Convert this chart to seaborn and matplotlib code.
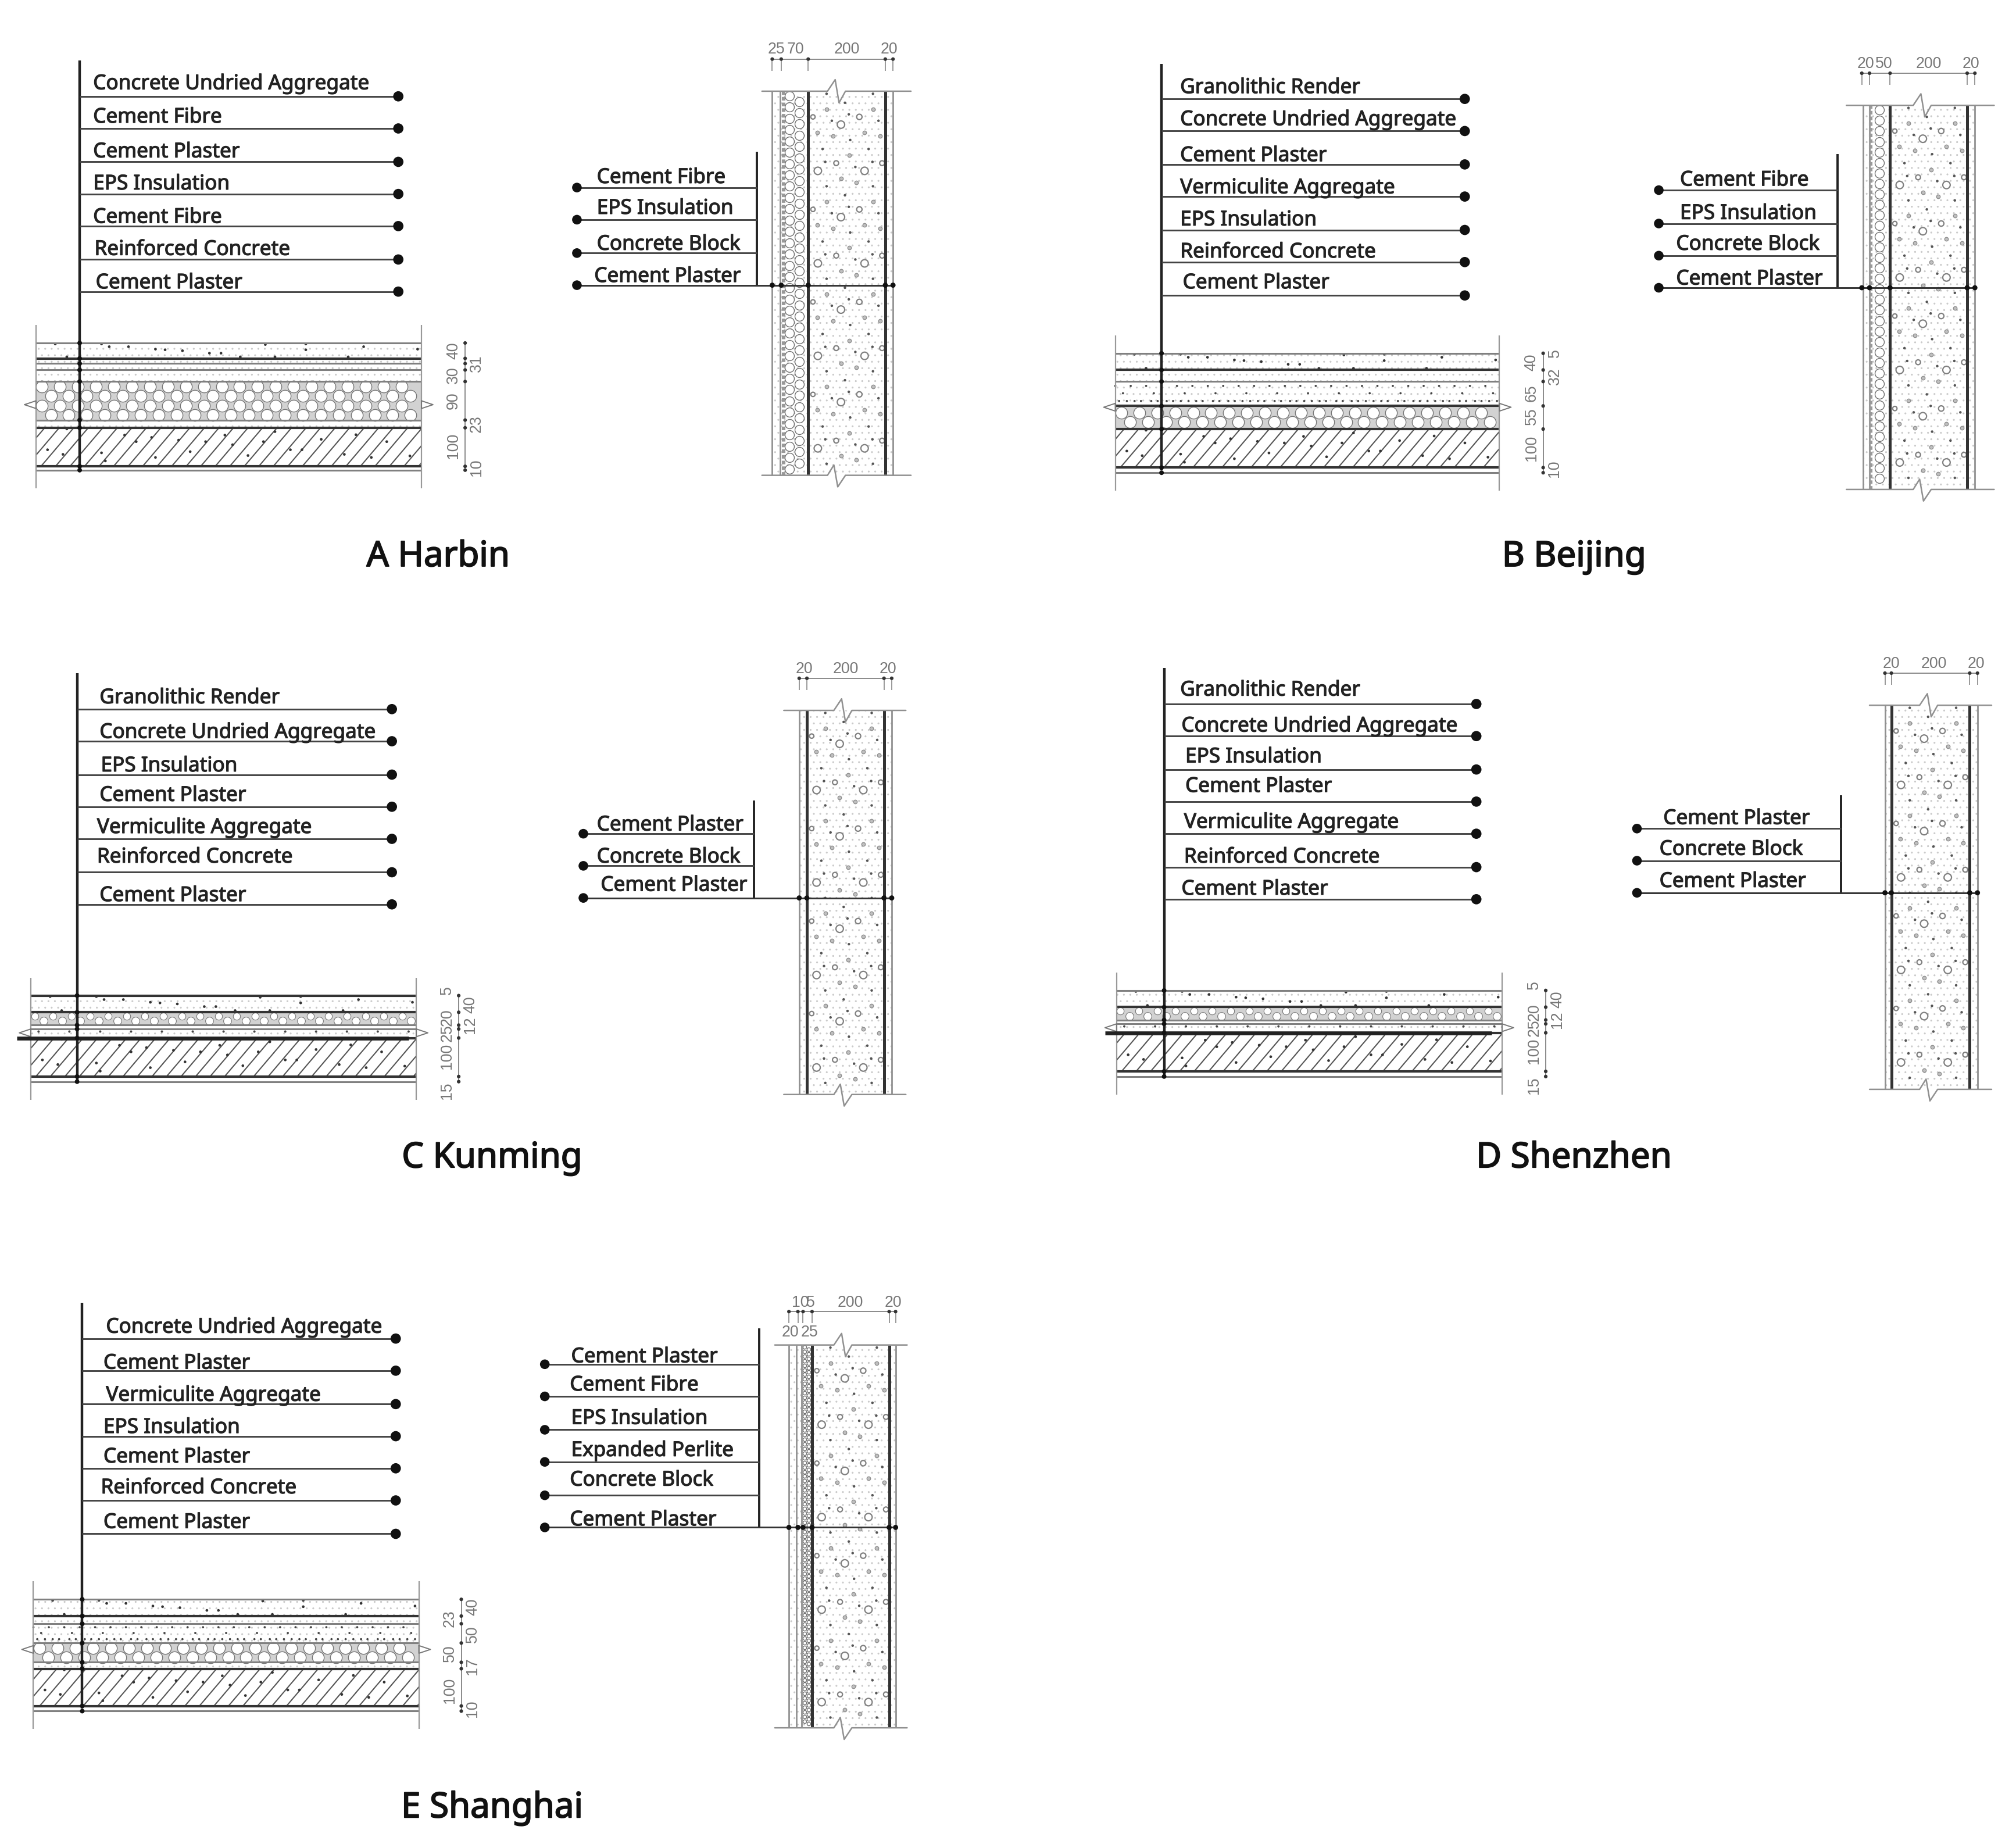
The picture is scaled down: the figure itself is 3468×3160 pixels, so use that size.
import numpy as np
import seaborn as sns
import matplotlib
matplotlib.use("Agg")
import matplotlib.pyplot as plt
import matplotlib.patheffects as pe
from matplotlib.collections import LineCollection
from matplotlib.patches import Rectangle

W, H = 1569, 1430
S = 3468 / W  # drawing units to pixels

# ---------------------------------------------------------
# Data
# ---------------------------------------------------------
CUA, CF, CP, EPS = "Concrete Undried Aggregate", "Cement Fibre", "Cement Plaster", "EPS Insulation"
RC, VA, GR, CB, EP = "Reinforced Concrete", "Vermiculite Aggregate", "Granolithic Render", "Concrete Block", "Expanded Perlite"

titles = ["A Harbin", "B Beijing", "C Kunming", "D Shenzhen", "E Shanghai"]
title_pos = [(341, 433.5), (1225, 433.5), (383, 901.5), (1225, 901.5), (383, 1407.5)]

# floor build-ups: labels, label anchors, leader heights
a_names = [CUA, CF, CP, EPS, CF, RC, CP]
a_lx = [72, 72, 72, 72, 72, 73, 74]
a_ly = [64, 90, 117, 142, 168, 193, 219]
a_rows = [75, 100, 126, 151, 176, 202, 227]
b_names = [GR, CUA, CP, VA, EPS, RC, CP]
b_lx = [918, 918, 918, 918, 918, 918, 920]
b_ly = [67, 92, 120, 145, 170, 195, 219]
b_rows = [77, 102, 128, 153, 179, 204, 230]
c_names = [GR, CUA, EPS, CP, VA, RC, CP]
c_lx = [77, 77, 78, 77, 75, 75, 77]
c_ly = [542, 569, 595, 618, 643, 666, 696]
c_rows = [552, 577, 603, 628, 653, 679, 704]
d_names = [GR, CUA, EPS, CP, VA, RC, CP]
d_lx = [918, 919, 922, 922, 921, 921, 919]
d_ly = [536, 564, 588, 611, 639, 666, 691]
d_rows = [548, 573, 599, 624, 649, 675, 700]
e_names = [CUA, CP, VA, EPS, CP, RC, CP]
e_lx = [82, 80, 82, 80, 80, 78, 80]
e_ly = [1032, 1060, 1085, 1110, 1133, 1157, 1184]
e_rows = [1042, 1067, 1093, 1118, 1143, 1168, 1194]

# floor layers: kind, top, bottom
a_layers = [("screed", 267, 279), ("thin", 279, 288), ("thin", 288, 297), ("eps", 297, 327), ("thin", 327, 333), ("slab", 333, 363)]
b_layers = [("screed", 275, 288), ("thin", 288, 297), ("verm", 297, 316), ("eps", 316, 334), ("slab", 334, 364)]
c_layers = [("screed", 775, 788), ("cups", 788, 798), ("row", 800, 808), ("slab", 808, 838)]
d_layers = [("screed", 771, 784), ("cups", 784, 794), ("row", 796, 804), ("slab", 804, 834)]
e_layers = [("screed", 1245, 1258), ("thin", 1258, 1264), ("verm", 1264, 1279), ("eps", 1279, 1294), ("thin", 1294, 1299), ("slab", 1299, 1328)]
a_dark = [279, 333, 363]
b_dark = [288, 316, 334, 364]
c_dark = [775, 788, 808, 838]
d_dark = [784, 804, 834]
e_dark = [1258, 1299, 1328]
a_pale = [267, 283, 288, 297, 327, 366]
b_pale = [275, 297, 368]
c_pale = [798, 801, 842]
d_pale = [771, 794, 797, 838]
e_pale = [1245, 1264, 1279, 1294, 1332]

# floor dimension strings: text, height, side
a_dims = [("40", 273, -1), ("31", 283, 1), ("30", 292, -1), ("90", 312, -1), ("23", 330, 1), ("100", 347, -1), ("10", 364, 1)]
b_dims = [("5", 275, 1), ("40", 282, -1), ("32", 293, 1), ("65", 306, -1), ("55", 324, -1), ("100", 349, -1), ("10", 365, 1)]
c_dims = [("5", 771, -1), ("40", 782, 1), ("20", 792, -1), ("12", 798, 1), ("25", 804, -1), ("100", 822, -1), ("15", 849, -1)]
d_dims = [("5", 767, -1), ("40", 778, 1), ("20", 788, -1), ("12", 794, 1), ("25", 800, -1), ("100", 818, -1), ("15", 845, -1)]
e_dims = [("40", 1251, 1), ("23", 1260, -1), ("50", 1272, 1), ("50", 1287, -1), ("17", 1297, 1), ("100", 1316, -1), ("10", 1330, 1)]

# wall sections: line position, weight (1 pale, 2 dark, 3 speckled band)
a_wall = [(601, 1), (607, 1), (610, 3), (629, 2), (689, 2), (695, 1)]
b_wall = [(1450, 1), (1455, 1), (1456, 3), (1471, 2), (1531, 2), (1537, 1)]
c_wall = [(622, 1), (628, 2), (688, 2), (694, 1)]
d_wall = [(1467, 1), (1472, 2), (1533, 2), (1539, 1)]
e_wall = [(614, 1), (620, 1), (624, 1), (632, 2), (692, 2), (697, 1)]
# insulation columns inside the wall: column centres, cell size, pitch
a_wall_eps = ([614.5, 622], 7.2, 8.8)
b_wall_eps = ([1462.5], 7.2, 8.2)
e_wall_eps = ([626, 629.5], 2.8, 3.6)

a_sec_names = [CF, EPS, CB, CP]
a_sec_lx = [464, 464, 464, 462]
a_sec_ly = [137, 161, 189, 214]
a_sec_rows = [146, 171, 197, 222]
b_sec_names = [CF, EPS, CB, CP]
b_sec_lx = [1307, 1307, 1304, 1304]
b_sec_ly = [139, 165, 189, 216]
b_sec_rows = [148, 174, 199, 224]
c_sec_names = [CP, CB, CP]
c_sec_lx = [464, 464, 467]
c_sec_ly = [641, 666, 688]
c_sec_rows = [649, 674, 699]
d_sec_names = [CP, CB, CP]
d_sec_lx = [1294, 1291, 1291]
d_sec_ly = [636, 660, 685]
d_sec_rows = [645, 670, 695]
e_sec_names = [CP, CF, EPS, EP, CB, CP]
e_sec_lx = [444, 443, 444, 444, 443, 443]
e_sec_ly = [1055, 1077, 1103, 1128, 1151, 1182]
e_sec_rows = [1062, 1087, 1113, 1138, 1164, 1189]

# wall dimension strings above each section: text, x, y
a_wall_dims = [("25", 604, 38.5), ("70", 619, 38.5), ("200", 659, 38.5), ("20", 692, 38.5)]
b_wall_dims = [("20", 1452, 50), ("50", 1466, 50), ("200", 1501, 50), ("20", 1534, 50)]
c_wall_dims = [("20", 626, 521), ("200", 658, 521), ("20", 691, 521)]
d_wall_dims = [("20", 1472, 517), ("200", 1505, 517), ("20", 1538, 517)]
e_wall_dims = [("10", 623, 1014), ("5", 631, 1014), ("200", 662, 1014), ("20", 695, 1014), ("20", 615, 1037), ("25", 630, 1037)]
a_wall_ticks = [601, 608, 629, 689, 695]
b_wall_ticks = [1449, 1455, 1471, 1531, 1537]
c_wall_ticks = [622, 628, 688, 694]
d_wall_ticks = [1467, 1472, 1533, 1539]
e_wall_ticks = [614, 621, 625, 632, 692, 697]

# repeating aggregate pattern of the block wall, one tile: dx, dy, radius
agg_open = [(3.7, 20, 1.7), (14.3, 14, 1.4), (25.5, 26, 2.9), (39.8, 20, 2.1), (50.4, 14, 1.4), (7, 32, 1.4), (19.4, 35, 1.4),
            (43.9, 32, 1.4), (56, 35, 1.4), (32, 50, 1.4), (21.8, 56, 1.9), (7.5, 62, 2.9), (43.9, 62, 2.9), (57.5, 56, 1.9),
            (25.5, 68, 1.4), (37.3, 71, 1.4)]
agg_dots = [(28.6, 9), (31.6, 18), (18.4, 23), (54.7, 23), (32.7, 38), (11.2, 45), (47, 45), (13.3, 55), (36.7, 59), (50, 55),
            (14.3, 2), (50.4, 2)]
# scattered grit in the screed and slab, as fractions of the layer
screed_grit = [(.05, .06), (.17, .06), (.19, .24), (.24, .24), (.31, .4), (.335, .44), (.38, .5), (.45, .66), (.48, .66), (.595, .1),
               (.70, .06), (.70, .44), (.85, .24), (.99, .4), (.08, .9), (.53, .9), (.62, .9), (.81, .9)]
slab_grit = [(.08, .03), (.23, .19), (.26, .36), (.30, .25), (.37, .32), (.44, .36), (.49, .19), (.51, .44), (.59, .36), (.66, .57),
             (.69, .57), (.80, .69), (.91, .36), (.87, .77), (.97, .73), (.03, .57), (.07, .69), (.17, .65), (.31, .77), (.18, .86),
             (.40, .62), (.55, .72), (.74, .30), (.83, .18), (.62, .10)]
# vermiculite marks, one 48 unit wide tile: dx, fraction of layer
verm_tile = [(0, .18), (12, .18), (24, .18), (36, .18), (6, .48), (30, .48), (3, .8), (9, .8), (15, .8), (20, .8), (28, .8), (33, .8), (40, .8), (45, .8)]

panels = [
    dict(names=a_names, lx=a_lx, ly=a_ly, rows=a_rows, vx=62, vtop=47, vbot=363, dot=310, fx=(28, 328), layers=a_layers, dark=a_dark, pale=a_pale,
         dims=a_dims, dimx=362, by=315, band=None, wall=a_wall, weps=a_wall_eps, wy=(71, 370), span=(593, 709), brk=650, snames=a_sec_names, slx=a_sec_lx,
         sly=a_sec_ly, srows=a_sec_rows, sdot=449, svx=589, svtop=118, wdims=a_wall_dims, wticks=a_wall_ticks, wdy=46),
    dict(names=b_names, lx=b_lx, ly=b_ly, rows=b_rows, vx=904, vtop=50, vbot=366, dot=1140, fx=(868, 1167), layers=b_layers, dark=b_dark, pale=b_pale,
         dims=b_dims, dimx=1201, by=317, band=None, wall=b_wall, weps=b_wall_eps, wy=(82, 381), span=(1437, 1552), brk=1495, snames=b_sec_names, slx=b_sec_lx,
         sly=b_sec_ly, srows=b_sec_rows, sdot=1291, svx=1430, svtop=120, wdims=b_wall_dims, wticks=b_wall_ticks, wdy=57),
    dict(names=c_names, lx=c_lx, ly=c_ly, rows=c_rows, vx=60, vtop=524, vbot=842, dot=305, fx=(24, 324), layers=c_layers, dark=c_dark, pale=c_pale,
         dims=c_dims, dimx=357, by=804, band=(13, 318, 808), wall=c_wall, weps=None, wy=(553, 852), span=(610, 705), brk=655, snames=c_sec_names, slx=c_sec_lx,
         sly=c_sec_ly, srows=c_sec_rows, sdot=454, svx=587, svtop=623, wdims=c_wall_dims, wticks=c_wall_ticks, wdy=528),
    dict(names=d_names, lx=d_lx, ly=d_ly, rows=d_rows, vx=906, vtop=520, vbot=838, dot=1149, fx=(869, 1169), layers=d_layers, dark=d_dark, pale=d_pale,
         dims=d_dims, dimx=1203, by=800, band=(860, 1161, 804), wall=d_wall, weps=None, wy=(549, 848), span=(1455, 1550), brk=1500, snames=d_sec_names, slx=d_sec_lx,
         sly=d_sec_ly, srows=d_sec_rows, sdot=1274, svx=1433, svtop=619, wdims=d_wall_dims, wticks=d_wall_ticks, wdy=524),
    dict(names=e_names, lx=e_lx, ly=e_ly, rows=e_rows, vx=64, vtop=1014, vbot=1330, dot=308, fx=(26, 326), layers=e_layers, dark=e_dark, pale=e_pale,
         dims=e_dims, dimx=359, by=1284, band=None, wall=e_wall, weps=e_wall_eps, wy=(1047, 1345), span=(603, 706), brk=655, snames=e_sec_names, slx=e_sec_lx,
         sly=e_sec_ly, srows=e_sec_rows, sdot=424, svx=591, svtop=1034, wdims=e_wall_dims, wticks=e_wall_ticks, wdy=1021),
]

# ---------------------------------------------------------
# Figure
# ---------------------------------------------------------
sns.set_theme(style="white")
plt.rcParams["font.family"] = ["Noto Sans", "DejaVu Sans"]
plt.rcParams["hatch.linewidth"] = 0.35

fig = plt.figure(figsize=(17.34, 15.8), dpi=200, facecolor="white")
ax = fig.add_axes([0, 0, 1, 1])
ax.set_xlim(0, W)
ax.set_ylim(H, 0)
ax.axis("off")
ax.set_autoscale_on(False)

INK = "#222222"
GREY = "#777777"
LABEL_SIZE = 12.65
DIM_SIZE = 9.6
DIM_FONT = ["Liberation Sans Narrow", "Liberation Sans", "DejaVu Sans"]
THICK = [pe.withStroke(linewidth=0.45, foreground=INK)]
CELL_BACK = "#d2d2d2"


def to_pts(d):
    # diameter in drawing units to matplotlib marker area
    return (d * S / 200 * 72) ** 2


def dots(xs, ys, d, color=INK, edge="none", lw=0, z=4):
    sns.scatterplot(x=np.asarray(xs, float), y=np.asarray(ys, float), s=to_pts(d), color=color, edgecolor=edge, linewidth=lw,
                    legend=False, ax=ax, zorder=z)


def stipple(x0, x1, y0, y1):
    ax.add_patch(Rectangle((x0, y0), x1 - x0, y1 - y0, fill=False, hatch="...", edgecolor="#cacaca", lw=0, zorder=1))


def eps_cells(x0, x1, y0, y1, pitch=14, step=7.4, d=9.2):
    nrows = max(1, int((y1 - y0) / step))
    top = (y0 + y1) / 2 - (nrows - 1) * step / 2
    xs, ys = [], []
    for r in range(nrows):
        off = pitch / 2 if r % 2 else 0
        cols = np.arange(x0 + d / 2 + off, x1 - d / 2 + 0.01, pitch)
        xs += list(cols)
        ys += [top + r * step] * len(cols)
    ax.add_patch(Rectangle((x0, y0), x1 - x0, y1 - y0, color=CELL_BACK, lw=0, zorder=1.5))
    dots(xs, ys, d, color="white", edge="#777777", lw=0.5, z=2)


def cup_cells(x0, x1, y0, y1):
    # two uneven rows of small cells in the thin insulation layers
    ax.add_patch(Rectangle((x0, y0), x1 - x0, y1 - y0, color=CELL_BACK, lw=0, zorder=1.5))
    cols = np.arange(x0 + 3, x1 - 3, 14.3)
    dots(cols, [y0 + 3] * len(cols), 5.6, color="white", edge="#777777", lw=0.4, z=2)
    cols2 = cols + 7
    cols2 = cols2[cols2 < x1 - 3]
    dots(cols2, [y0 + 6.8] * len(cols2), 6.2, color="white", edge="#777777", lw=0.4, z=2)


def slab_hatch(x0, x1, y0, y1):
    h = y1 - y0
    clip = Rectangle((x0, y0), x1 - x0, h, fill=False, lw=0)
    ax.add_patch(clip)
    segs = [[(x, y1), (x + h * 0.85, y0)] for x in np.arange(x0 - h, x1, 11.3)]
    lc = LineCollection(segs, colors="#555555", linewidths=0.75, zorder=2)
    ax.add_collection(lc)
    lc.set_clip_path(clip)


def grit(x0, x1, y0, y1, table, d=2.1):
    dots([x0 + (x1 - x0) * a for a, b in table], [y0 + (y1 - y0) * b for a, b in table], d, color="#333333", z=3)


def break_mark(x, y, sign):
    ax.plot([x, x + sign * 9, x, x], [y - 3, y, y + 3, y - 3], color=GREY, lw=0.7, zorder=3)


def draw_floor(p):
    x0, x1 = p["fx"]
    ylist = p["pale"] + p["dark"]
    top, bot = min(ylist), max(ylist)
    for kind, y0, y1 in p["layers"]:
        if kind == "screed":
            stipple(x0, x1, y0, y1)
            grit(x0, x1, y0, y1, screed_grit)
        elif kind == "thin":
            stipple(x0, x1, y0, y1)
        elif kind == "verm":
            stipple(x0, x1, y0, y1)
            xs = [x0 + 48 * k + dx for k in range(7) for dx, dy in verm_tile if x0 + 48 * k + dx < x1]
            ys = [y0 + (y1 - y0) * dy for k in range(7) for dx, dy in verm_tile if x0 + 48 * k + dx < x1]
            dots(xs, ys, 1.7, color="#444444", z=3)
        elif kind == "row":
            stipple(x0, x1, y0, y1)
            cols = np.arange(x0 + 6, x1, 24)
            dots(cols, [(y0 + y1) / 2 - 1] * len(cols), 1.8, color="#444444", z=3)
        elif kind == "eps":
            eps_cells(x0, x1, y0, y1)
        elif kind == "cups":
            cup_cells(x0, x1, y0, y1)
        elif kind == "slab":
            slab_hatch(x0, x1, y0, y1)
            grit(x0, x1, y0, y1, slab_grit)
    ax.hlines(p["pale"], x0, x1, color="#808080", lw=1.1, zorder=3)
    ax.hlines(p["dark"], x0, x1, color="#333333", lw=1.5, zorder=3)
    if p["band"] is not None:
        ax.hlines(p["band"][2], p["band"][0], p["band"][1], color="#222222", lw=2.4, zorder=4)
    ax.vlines([x0, x1], top - 14, bot + 14, color="#999999", lw=0.8, zorder=3)
    break_mark(x0, p["by"], -1)
    break_mark(x1, p["by"], 1)
    # dimension string at the right
    dx = p["dimx"]
    ticks = sorted(set(ylist))
    ax.vlines(dx, top, bot, color=GREY, lw=0.6)
    dots([dx] * len(ticks), ticks, 2.8, color="#333333")
    for txt, y, side in p["dims"]:
        ax.text(dx + side * 9, y, txt, rotation=90, ha="center", va="center", fontsize=DIM_SIZE, color="#777777", family=DIM_FONT)


def draw_wall(p):
    y0, y1 = p["wy"]
    xs = p["wall"]
    stipple(xs[0][0], xs[-1][0], y0, y1)
    if p["weps"] is not None:
        cols, d, pitch = p["weps"]
        for c, cx in enumerate(cols):
            ey = np.arange(y0 + d / 2 + (pitch / 2 if c % 2 else 0), y1 - d / 2, pitch)
            dots([cx] * len(ey), ey, d, color="white", edge="#707070", lw=0.5, z=2)
    # aggregate tile
    left = [x for x, wt in xs if wt == 2][0]
    for k in range(5):
        oy = y0 + 72 * k
        keep = [t for t in agg_open if oy + t[1] < y1 - 2]
        big = [t for t in keep if t[2] > 1.5]
        small = [t for t in keep if t[2] <= 1.5]
        if big:
            sns.scatterplot(x=np.array([left + t[0] for t in big]), y=np.array([oy + t[1] for t in big]),
                            s=to_pts(2 * np.array([t[2] for t in big])), color="white", edgecolor="#808080", linewidth=0.8,
                            legend=False, ax=ax, zorder=3)
        if small:
            dots([left + t[0] for t in small], [oy + t[1] for t in small], 2.9, color="#c0c0c0", edge="#909090", lw=0.5, z=3)
        dk = [t for t in agg_dots if oy + t[1] < y1 - 2]
        if dk:
            dots([left + t[0] for t in dk], [oy + t[1] for t in dk], 2.0, color="#555555", z=3)
    for x, wt in xs:
        if wt == 3:
            ax.vlines(x, y0, y1, color="#999999", lw=2.2, ls=(0, (1, 0.6)), zorder=4)
        else:
            ax.vlines(x, y0, y1, color="#333333" if wt == 2 else "#909090", lw=1.8 if wt == 2 else 1.0, zorder=4)
    # broken top and bottom edges
    sx0, sx1 = p["span"]
    b = p["brk"]
    ax.plot([sx0, b - 6, b, b + 3, b + 8, sx1], [y0, y0, y0 - 9, y0 + 9, y0, y0], color="#909090", lw=0.9, zorder=5)
    ax.plot([sx0, b - 6, b - 1, b + 2, b + 8, sx1], [y1, y1, y1 - 8, y1 + 9, y1, y1], color="#909090", lw=0.9, zorder=5)
    # dimension string on top
    wy = p["wdy"]
    t = p["wticks"]
    ax.hlines(wy, t[0], t[-1], color=GREY, lw=0.6)
    ax.vlines(t, wy, wy + 9, color="#999999", lw=0.7)
    dots(t, [wy] * len(t), 2.8, color="#333333")
    for txt, x, y in p["wdims"]:
        ax.text(x, y, txt, ha="center", va="center", fontsize=DIM_SIZE, color="#777777", family=DIM_FONT)


def draw_notes(p):
    # floor notes
    ax.vlines(p["vx"], p["vtop"], p["vbot"], color=INK, lw=1.6, zorder=6)
    ax.hlines(p["rows"], p["vx"], p["dot"], color="#444444", lw=1.05, zorder=6)
    dots([p["dot"]] * len(p["rows"]), p["rows"], 8, color="#111111", z=7)
    ticks = [y for y in p["pale"] + p["dark"] if y > p["vtop"]]
    dots([p["vx"]] * len(ticks), ticks, 3.6, color="#111111", z=7)
    for name, x, y in zip(p["names"], p["lx"], p["ly"]):
        ax.text(x + 0.5, y + 1.4, name, ha="left", va="center", fontsize=LABEL_SIZE, color=INK, zorder=8, path_effects=THICK)
    # wall notes
    sec = p["srows"][-1]
    ax.vlines(p["svx"], p["svtop"], sec, color=INK, lw=1.4, zorder=6)
    ax.hlines(p["srows"][:-1], p["sdot"], p["svx"], color="#444444", lw=1.05, zorder=6)
    ax.hlines(sec, p["sdot"], p["wall"][-1][0] - 2, color="#333333", lw=1.05, zorder=6)
    dots([p["sdot"]] * len(p["srows"]), p["srows"], 7.5, color="#111111", z=7)
    dots(p["wticks"], [sec] * len(p["wticks"]), 4, color="#111111", z=7)
    for name, x, y in zip(p["snames"], p["slx"], p["sly"]):
        ax.text(x + 0.5, y + 1.4, name, ha="left", va="center", fontsize=LABEL_SIZE, color=INK, zorder=8, path_effects=THICK)


for p in panels:
    draw_floor(p)
    draw_wall(p)
    draw_notes(p)

for txt, (x, y) in zip(titles, title_pos):
    ax.text(x, y, txt, ha="center", va="center", fontsize=21.6, color="#111111",
            path_effects=[pe.withStroke(linewidth=0.7, foreground="#111111")])

fig.savefig("out.png", dpi=200, facecolor="white")
